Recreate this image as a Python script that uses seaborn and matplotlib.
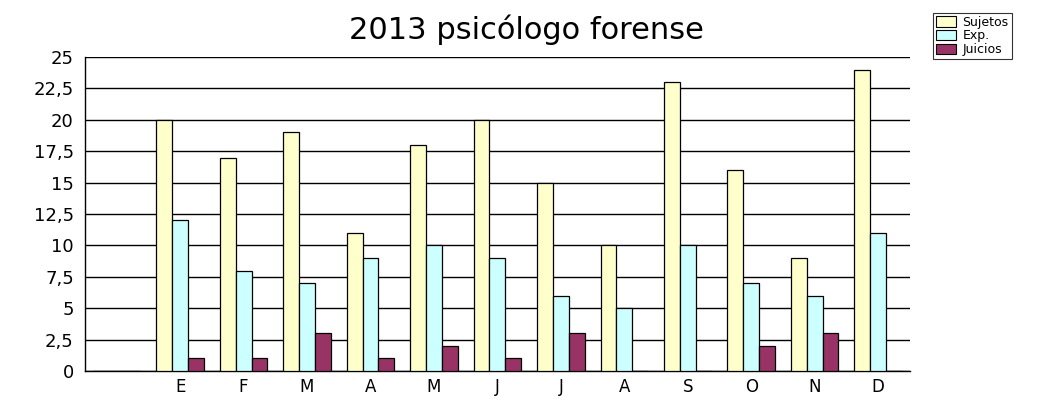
import matplotlib
matplotlib.use("Agg")
import matplotlib.pyplot as plt
from matplotlib.ticker import MultipleLocator, FixedLocator, FuncFormatter
import seaborn as sns
import pandas as pd

# Monthly counts; the first slot is an empty, unlabelled category
months = ["", "E", "F", "M", "A", "M ", "J", "J ", "A ", "S", "O", "N", "D"]
month_labels = ["", "E", "F", "M", "A", "M", "J", "J", "A", "S", "O", "N", "D"]
sujetos = [0, 20, 17, 19, 11, 18, 20, 15, 10, 23, 16, 9, 24]
expedientes = [0, 12, 8, 7, 9, 10, 9, 6, 5, 10, 7, 6, 11]
juicios = [0, 1, 1, 3, 1, 2, 1, 3, 0, 0, 2, 3, 0]
series_names = ["Sujetos", "Exp.", "Juicios"]
series_colors = ["#FFFFCC", "#CCFFFF", "#993366"]

df = pd.DataFrame({
    "mes": months * 3,
    "serie": [series_names[0]] * 13 + [series_names[1]] * 13 + [series_names[2]] * 13,
    "valor": sujetos + expedientes + juicios,
})

sns.set_style("white")
plt.rcParams["font.family"] = ["DejaVu Sans"]
plt.rcParams["text.color"] = "black"
plt.rcParams["xtick.color"] = "black"
plt.rcParams["ytick.color"] = "black"
plt.rcParams["xtick.labelcolor"] = "black"
plt.rcParams["ytick.labelcolor"] = "black"

fig = plt.figure(figsize=(10.58, 3.96), dpi=100)
ax = fig.add_axes([0.0803, 0.0631, 0.7797, 0.7929])

sns.barplot(data=df, x="mes", y="valor", hue="serie", order=months,
            hue_order=series_names, palette=series_colors, width=0.75,
            edgecolor="black", linewidth=0.9, saturation=1, ax=ax,
            legend=True, zorder=3)

ax.set_ylim(0, 25)
ax.set_xlim(-0.5, len(months) - 0.5)
ax.yaxis.set_major_locator(MultipleLocator(2.5))
ax.yaxis.set_major_formatter(FuncFormatter(lambda v, p: f"{v:g}".replace(".", ",")))
ax.grid(axis="y", color="black", linewidth=1.0, zorder=0)
ax.set_axisbelow(True)

ax.set_xticks(range(len(months)))
ax.set_xticklabels(month_labels)
ax.xaxis.set_minor_locator(FixedLocator([i - 0.5 for i in range(len(months) + 1)]))
ax.tick_params(axis="x", which="major", length=0, labelsize=12, pad=5)
ax.tick_params(axis="x", which="minor", length=4, width=0.8, direction="out")
ax.tick_params(axis="y", length=5, width=0.8, direction="out", labelsize=13, pad=3)

ax.set_xlabel("")
ax.set_ylabel("")
for side in ["top", "right"]:
    ax.spines[side].set_visible(False)
for side in ["left", "bottom"]:
    ax.spines[side].set_color("black")
    ax.spines[side].set_linewidth(1.0)

fig.text(0.498, 0.925, "2013 psicólogo forense", ha="center", va="center",
         fontsize=22, color="black")

ax.legend_.remove()
handles = [plt.Rectangle((0, 0), 1, 1, facecolor=c, edgecolor="black", linewidth=0.8)
           for c in series_colors]
leg = fig.legend(handles, series_names, loc="upper left", bbox_to_anchor=(0.882, 0.968),
                 frameon=True, fancybox=False, edgecolor="black", fontsize=9,
                 handlelength=1.6, handleheight=0.9, handletextpad=0.5,
                 labelspacing=0.05, borderpad=0.25, borderaxespad=0)
leg.get_frame().set_linewidth(0.8)
for t in leg.get_texts():
    t.set_color("black")

fig.savefig("out.png", dpi=100)
